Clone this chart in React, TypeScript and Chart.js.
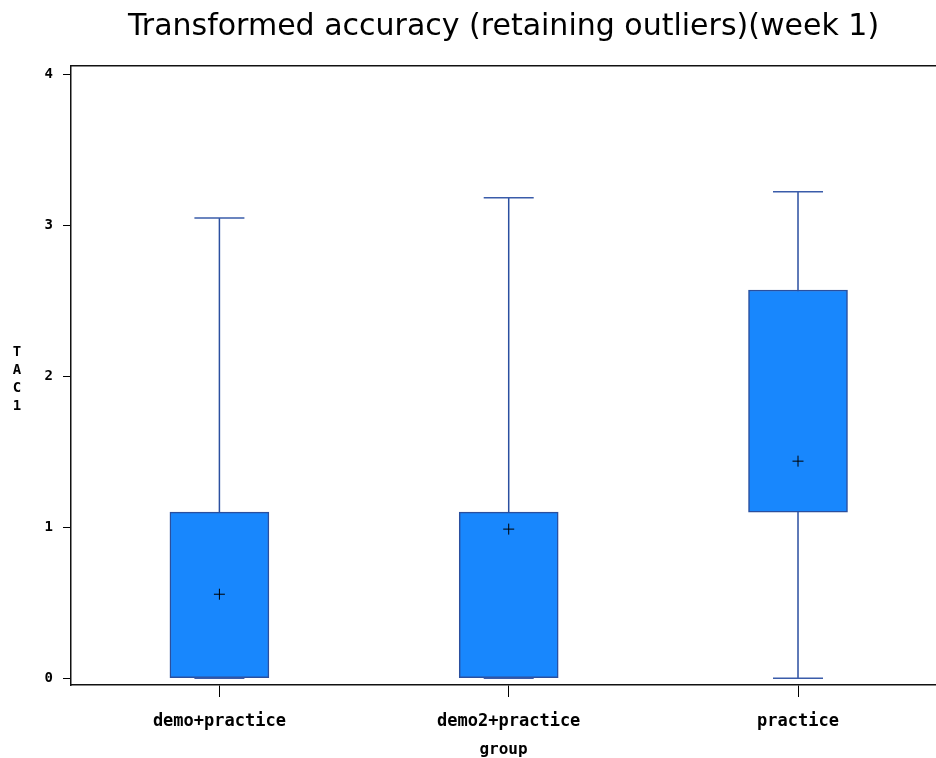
import React, { useEffect, useRef } from "react";
import { Chart, registerables } from "chart.js";

Chart.register(...registerables);

const groups = ["demo+practice", "demo2+practice", "practice"];
const mins = [0, 0, 0];
const q1s = [0, 0, 1.1];
const q3s = [1.1, 1.1, 2.57];
const maxs = [3.046, 3.18, 3.22];
const means = [0.556, 0.987, 1.437];
const yTicks = [0, 1, 2, 3, 4];
const titleText = "Transformed accuracy (retaining outliers)(week 1)";
const xTitle = "group";
const yTitleLetters = ["T", "A", "C", "1"];

const MONO = "'DejaVu Sans Mono', 'Liberation Mono', monospace";

const stackedYTitle = {
  id: "stackedYTitle",
  afterDraw(chart: any) {
    const { ctx, chartArea } = chart;
    const cy = (chartArea.top + chartArea.bottom) / 2 + 4;
    ctx.save();
    ctx.fillStyle = "#000";
    ctx.font = `bold 14px ${MONO}`;
    ctx.textAlign = "center";
    ctx.textBaseline = "middle";
    yTitleLetters.forEach((ch, i) => {
      ctx.fillText(ch, 17, cy + (i - (yTitleLetters.length - 1) / 2) * 18);
    });
    ctx.restore();
  },
};

const noPad = (s: any) => {
  s.paddingLeft = 0;
  s.paddingRight = 0;
  s.paddingTop = 0;
  s.paddingBottom = 0;
};

export default function App() {
  const ref = useRef<HTMLCanvasElement>(null);
  useEffect(() => {
    document.body.style.margin = "0";
    if (!ref.current) return;
    const whiskerData: any[] = [];
    groups.forEach((_, i) => {
      whiskerData.push({ x: i, y: mins[i] });
      whiskerData.push({ x: i, y: maxs[i] });
      whiskerData.push({ x: i, y: null });
    });
    const capData: any[] = [];
    groups.forEach((_, i) => {
      capData.push({ x: i, y: maxs[i] });
      capData.push({ x: i, y: mins[i] });
    });
    const chart = new Chart(ref.current, {
      type: "bar",
      data: {
        datasets: [
          {
            type: "line",
            data: whiskerData,
            borderColor: "#2B4FA0",
            borderWidth: 1.5,
            pointRadius: 0,
            spanGaps: false,
            order: 4,
          } as any,
          {
            type: "bar",
            data: groups.map((_, i) => ({ x: i, y: [q1s[i], q3s[i]] })),
            backgroundColor: "#1887FD",
            borderColor: "#2A4F9E",
            borderWidth: 1.5,
            borderSkipped: false,
            barThickness: 99,
            grouped: false,
            order: 3,
          } as any,
          {
            type: "scatter",
            data: capData,
            pointStyle: "line",
            pointRadius: 25,
            pointBorderColor: "#3A5CAA",
            pointBorderWidth: 1.5,
            order: 2,
          } as any,
          {
            type: "scatter",
            data: groups.map((_, i) => ({ x: i, y: means[i] })),
            pointStyle: "cross",
            pointRadius: 5.5,
            pointBorderColor: "#000",
            pointBorderWidth: 1,
            order: 1,
          } as any,
        ],
      },
      options: {
        responsive: false,
        animation: false,
        layout: { padding: 0, autoPadding: false },
        plugins: {
          legend: { display: false },
          tooltip: { enabled: false },
          title: {
            display: true,
            text: titleText,
            fullSize: false,
            color: "#000",
            font: { family: "'DejaVu Sans', sans-serif", size: 30, weight: "normal", lineHeight: 1.2 },
            padding: { top: 9, bottom: 21 },
          },
        },
        scales: {
          x: {
            type: "linear",
            position: "bottom",
            offset: false,
            min: -0.513,
            max: 2.477,
            afterBuildTicks: (s: any) => {
              s.ticks = groups.map((_, i) => ({ value: i }));
            },
            afterFit: (s: any) => {
              s.height = 73;
              noPad(s);
            },
            ticks: {
              autoSkip: false,
              maxRotation: 0,
              padding: 16,
              color: "#000",
              font: { family: MONO, size: 17, weight: "bold", lineHeight: 1 },
              callback: (_v: any, i: number) => groups[i],
            },
            grid: { offset: false, drawOnChartArea: false, drawTicks: true, tickLength: 12, color: "#000", lineWidth: 1 },
            border: { display: true, color: "#111", width: 1.5 },
            title: {
              display: true,
              text: xTitle,
              color: "#000",
              font: { family: MONO, size: 16, weight: "bold", lineHeight: 1 },
              padding: 0,
            },
          },
          x2: {
            type: "linear",
            position: "top",
            offset: false,
            min: -0.513,
            max: 2.477,
            afterFit: (s: any) => {
              s.height = 0;
              noPad(s);
            },
            ticks: { display: false },
            grid: { offset: false, drawOnChartArea: false, drawTicks: false },
            border: { display: true, color: "#111", width: 1.5 },
          },
          y: {
            type: "linear",
            min: -0.045,
            max: 4.053,
            afterBuildTicks: (s: any) => {
              s.ticks = yTicks.map((v) => ({ value: v }));
            },
            afterFit: (s: any) => {
              s.width = 71;
              noPad(s);
            },
            ticks: {
              padding: 10,
              color: "#000",
              font: { family: MONO, size: 14, weight: "bold" },
              callback: (v: any) => String(v),
            },
            grid: { drawOnChartArea: false, drawTicks: true, tickLength: 8, color: "#000", lineWidth: 1 },
            border: { display: true, color: "#111", width: 1.5 },
          },
        },
      } as any,
      plugins: [stackedYTitle],
    });
    return () => chart.destroy();
  }, []);
  return (
    <div style={{ width: 936, height: 758, background: "#fff" }}>
      <canvas ref={ref} width={936} height={758} style={{ display: "block" }} />
    </div>
  );
}
